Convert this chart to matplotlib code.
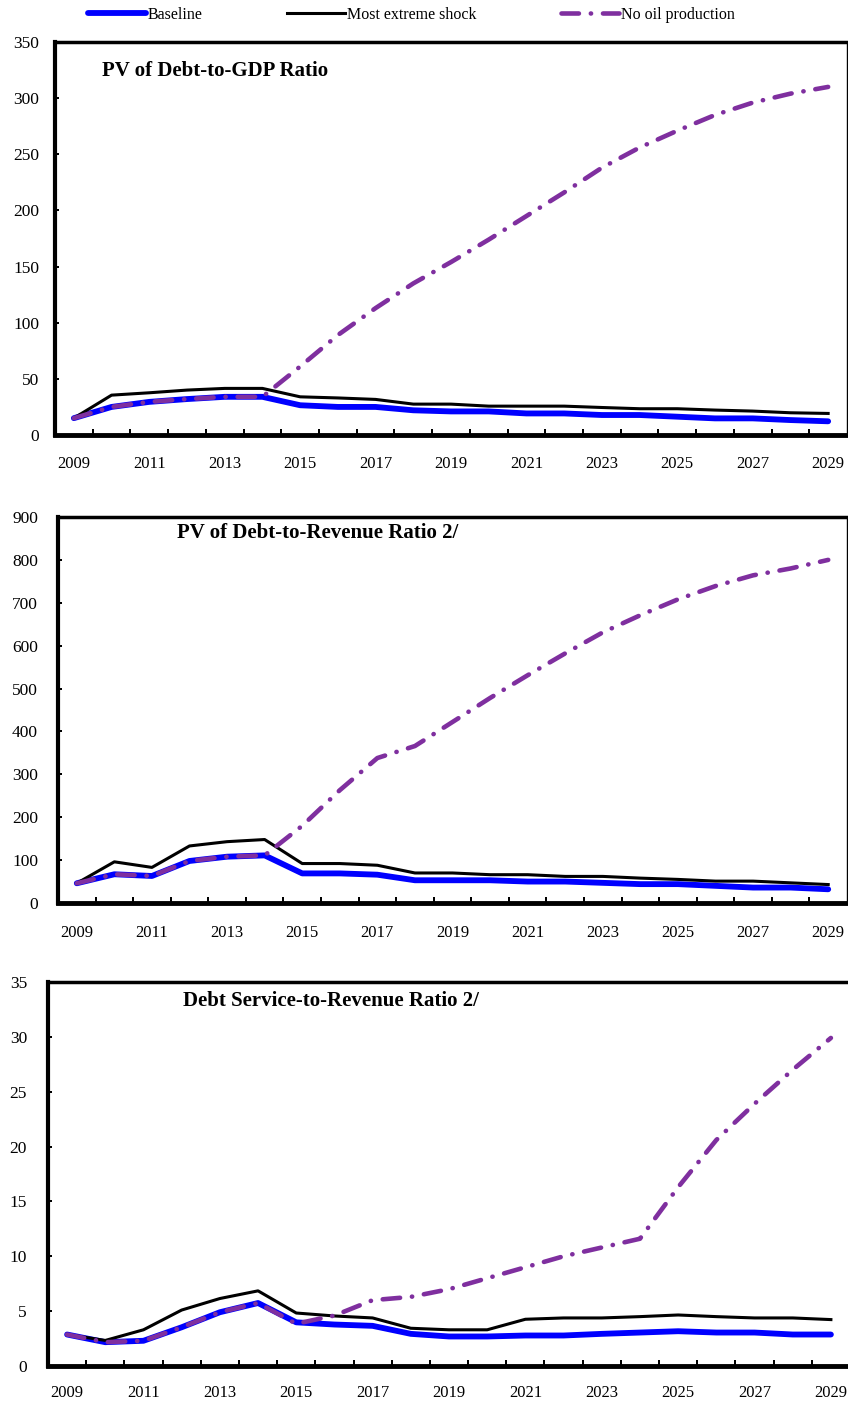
import matplotlib
matplotlib.use("Agg")
import matplotlib.pyplot as plt
import numpy as np

plt.rcParams['font.family'] = ['Liberation Serif', 'DejaVu Serif']

years = list(range(2009, 2030))

# Panel 1: PV of Debt-to-GDP Ratio
gdp_baseline = [15, 25, 29.5, 32, 34, 34, 26.5, 25, 25, 22, 21, 21, 19.2, 19.2, 17.8, 17.8, 16.3, 14.8, 14.8, 13.3, 12.2]
gdp_extreme = [15, 35.5, 37.6, 40, 41.5, 41.5, 34, 33, 31.7, 27.5, 27.5, 25.7, 25.7, 25.7, 24.5, 23.4, 23.4, 22.2, 21.3, 19.8, 19.2]
gdp_nooil = [15, 25, 29.5, 32, 34, 34, 61, 89, 113, 135, 154, 174, 195, 216, 238, 256, 271, 285, 296, 304, 310]

# Panel 2: PV of Debt-to-Revenue Ratio
rev_baseline = [46, 67, 63, 98, 108, 111, 69, 69, 66, 53, 53, 53, 50, 50, 47, 44, 44, 40, 36, 36, 32]
rev_extreme = [46, 96, 83, 133, 143, 148, 92, 92, 88, 70, 70, 66, 66, 62, 62, 58, 55, 51, 51, 47, 43]
rev_nooil = [46, 67, 63, 98, 108, 111, 180, 263, 338, 366, 422, 478, 531, 582, 631, 671, 708, 739, 764, 780, 800]

# Panel 3: Debt Service-to-Revenue Ratio
ds_baseline = [2.87, 2.17, 2.3, 3.53, 4.9, 5.74, 3.98, 3.78, 3.66, 2.93, 2.69, 2.69, 2.78, 2.78, 2.93, 3.05, 3.17, 3.05, 3.05, 2.87, 2.87]
ds_extreme = [2.87, 2.33, 3.3, 5.1, 6.15, 6.85, 4.83, 4.56, 4.38, 3.44, 3.3, 3.3, 4.26, 4.38, 4.38, 4.5, 4.65, 4.5, 4.38, 4.38, 4.23]
ds_nooil = [2.87, 2.17, 2.3, 3.53, 4.9, 5.74, 3.85, 4.6, 6.0, 6.3, 7.0, 8.0, 9.0, 10.0, 10.8, 11.6, 16.3, 20.6, 23.9, 27.0, 29.9]

titles = ["PV of Debt-to-GDP Ratio", "PV of Debt-to-Revenue Ratio 2/", "Debt Service-to-Revenue Ratio 2/"]
series_names = ["Baseline", "Most extreme shock", "No oil production"]
ylims = [(0, 350), (0, 900), (0, 35)]
ysteps = [50, 100, 5]
xtick_years = list(range(2009, 2030, 2))

W, H = 848, 1403
fig = plt.figure(figsize=(W / 100, H / 100), dpi=100)

# pixel boxes: left, right, top, bottom
boxes = [(55, 847, 42, 435), (58, 847, 517, 903), (48, 850, 982, 1366)]
title_pos = [(102, 71), (177, 533), (183, 1001.5)]
ypads = [16, 20, 21]
xpads = [21, 22, 19]

data = [(gdp_baseline, gdp_extreme, gdp_nooil),
        (rev_baseline, rev_extreme, rev_nooil),
        (ds_baseline, ds_extreme, ds_nooil)]

px2pt = 0.72
purple = '#7F2F9F'
handles = None
for i, (l, r, t, b) in enumerate(boxes):
    ax = fig.add_axes([l / W, 1 - b / H, (r - l) / W, (b - t) / H])
    base, ext, noil = data[i]
    h1, = ax.plot(years, base, color='#0000FF', lw=4.2, solid_capstyle='round', solid_joinstyle='round', zorder=3)
    h2, = ax.plot(years, ext, color='black', lw=2.2, solid_joinstyle='round', zorder=4)
    h3, = ax.plot(years, noil, color=purple, lw=3.3, linestyle=(0, (3.8, 2.6, 0.05, 2.6)),
                  dash_capstyle='round', zorder=5)
    if handles is None:
        handles = [h1, h2, h3]
    ax.set_xlim(2008.5, 2029.5)
    ax.set_ylim(*ylims[i])
    ax.set_yticks(np.arange(ylims[i][0], ylims[i][1] + 0.1, ysteps[i]))
    ax.set_xticks(xtick_years)
    ax.set_xticks(np.arange(2009.5, 2029, 1.0), minor=True)
    ax.tick_params(axis='x', which='major', length=0, pad=xpads[i] * px2pt, labelsize=12)
    ax.tick_params(axis='x', which='minor', length=6 * px2pt, width=2 * px2pt, direction='in', top=False)
    ax.tick_params(axis='y', which='major', length=4 * px2pt, width=2 * px2pt, direction='in', pad=ypads[i] * px2pt, labelsize=12.5)
    ax.spines['left'].set_linewidth(3.0)
    ax.spines['bottom'].set_linewidth(3.5)
    ax.spines['top'].set_linewidth(2.5)
    ax.spines['right'].set_linewidth(1.0)
    for s in ax.spines.values():
        s.set_capstyle('projecting')
    tx, ty = title_pos[i]
    fig.text(tx / W, 1 - ty / H, titles[i], fontsize=15, fontweight='bold', ha='left', va='center')

fig.legend(handles, series_names, loc='center left', bbox_to_anchor=(88 / W, 1 - 15 / H), ncol=3,
           frameon=False, fontsize=11.5, handlelength=3.6, handletextpad=0.15, columnspacing=5.3,
           borderpad=0, borderaxespad=0)

fig.savefig("out.png", dpi=100)
